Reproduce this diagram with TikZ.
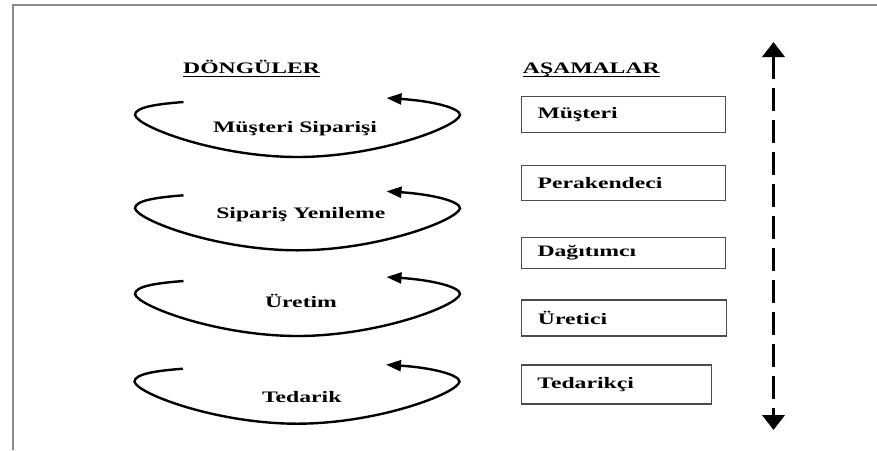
\documentclass[tikz,border=0pt]{standalone}
\usepackage{fontspec}
\setmainfont{Liberation Serif}
\newfontfamily\widefont[FakeStretch=1.48]{Liberation Serif}
\usetikzlibrary{arrows.meta}

\tikzset{
  lbl/.style={font=\widefont\bfseries\fontsize{16}{18}\selectfont, inner sep=0pt},
  stagebox/.style={lbl, draw=black!70, line width=1.4pt, anchor=north west,
    inner xsep=16pt, text width=172pt, align=left},
  framelines/.style={draw=black!45, line width=2pt},
  loopline/.style={line width=2.4pt, -{Triangle[length=15pt,width=11pt]}},
  levelarrow/.style={line width=3.8pt, dash pattern=on 23pt off 9pt,
    {Triangle[length=15pt,width=22pt]}-{Triangle[length=15pt,width=22pt]}},
  cycleloop/.pic={
    \draw[loopline] (-114,-13) .. controls (-140,-11) and (-162.5,-8) .. (-162.5,0)
      .. controls (-160,12) and (-80,42) .. (0,42)
      .. controls (80,42) and (160,12) .. (162.5,0)
      .. controls (162.5,-7) and (135,-14) .. (89,-17);
  }
}

\begin{document}
\begin{tikzpicture}[x=1pt, y=-1pt]
  \useasboundingbox (0,0) rectangle (877,450);

  % outer frame (top and left edges)
  \draw[framelines] (877,5) -- (13,5) -- (13,450);

  % column headings, underlined
  \node[lbl, anchor=base west] (hcyc) at (183,73.3) {DÖNGÜLER};
  \node[lbl, anchor=base west] (hstg) at (522.7,73.3) {AŞAMALAR};
  \draw[line width=1.5pt] ([yshift=-3pt]hcyc.base west) -- ([yshift=-3pt]hcyc.base east);
  \draw[line width=1.5pt] ([yshift=-3pt]hstg.base west) -- ([yshift=-3pt]hstg.base east);

  % cycles
  \pic at (297.5,115) {cycleloop};
  \pic at (297.5,208.3) {cycleloop};
  \pic at (297.5,294) {cycleloop};
  \pic at (297,381.7) {cycleloop};

  \node[lbl, anchor=base] (c1) at (295,132.7) {Müşteri Siparişi};
  \node[lbl, anchor=base] (c2) at (300.8,218.3) {Sipariş Yenileme};
  \node[lbl, anchor=base] (c3) at (301,307.3) {Üretim};
  \node[lbl, anchor=base] (c4) at (301.7,402.7) {Tedarik};

  % stages
  \node[stagebox, minimum width=204.3pt, minimum height=35.7pt] (s1) at (520.7,96) {Müşteri};
  \node[stagebox, minimum width=204.3pt, minimum height=35pt] (s2) at (520.7,165) {Perakendeci};
  \node[stagebox, minimum width=204.3pt, minimum height=31pt] (s3) at (520.7,236.7) {Dağıtımcı};
  \node[stagebox, minimum width=205pt, minimum height=36pt] (s4) at (520.7,299.3) {Üretici};
  \node[stagebox, text width=158pt, minimum width=190pt, minimum height=39pt] (s5) at (520.7,364.3) {Tedarikçi};

  % two-way level arrow
  \coordinate (up) at (773.5,42);
  \coordinate (down) at (773.5,430);
  \draw[levelarrow] (up) -- (down);
\end{tikzpicture}
\end{document}
